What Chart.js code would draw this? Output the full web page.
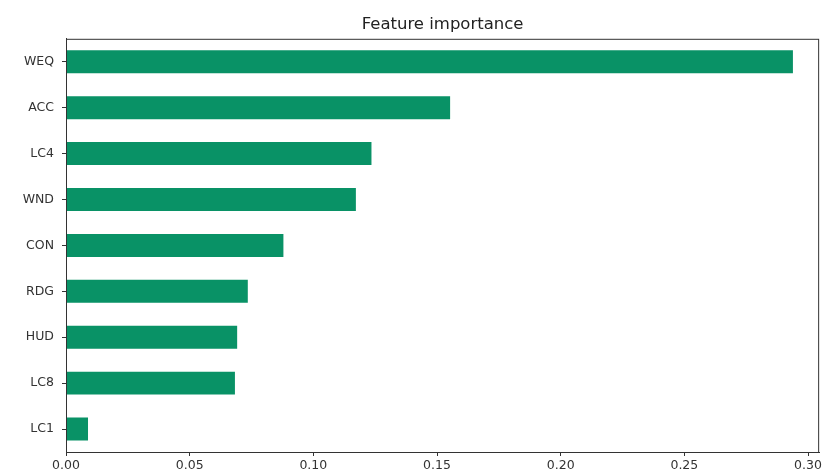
<!DOCTYPE html>
<html>
<head>
<meta charset="utf-8">
<script src="https://cdn.jsdelivr.net/npm/chart.js@4/dist/chart.umd.min.js"></script>
<style>
    body { margin: 0; background: #fff; }
</style>
</head>
<body>
<canvas id="feature-chart" width="824" height="472"></canvas>
<script>
var features = ["WEQ", "ACC", "LC4", "WND", "CON", "RDG", "HUD", "LC8", "LC1"];
var importance = [0.2939, 0.1553, 0.1235, 0.1172, 0.0879, 0.0735, 0.0692, 0.0683, 0.0089];
var xTicks = [0, 0.05, 0.10, 0.15, 0.20, 0.25, 0.30];

// draws the top and right spines like matplotlib
var frameBox = {
    id: 'frameBox',
    afterDraw: function(chart) {
        var a = chart.chartArea, ctx = chart.ctx;
        ctx.save();
        ctx.strokeStyle = '#333';
        ctx.lineWidth = 1;
        ctx.strokeRect(a.left + 0.5, a.top + 0.5, a.right - a.left - 1, a.bottom - a.top);
        ctx.restore();
    }
};

new Chart(document.getElementById("feature-chart"), {
    type: 'bar',
    data: {
        labels: features,
        datasets: [
            {
                label: "importance",
                backgroundColor: "#099266",
                data: importance,
                barPercentage: 0.5,
                categoryPercentage: 1.0
            }
        ]
    },
    options: {
        indexAxis: 'y',
        responsive: false,
        animation: false,
        devicePixelRatio: 1,
        layout: { padding: { left: 0, right: 2, top: 0, bottom: 0 } },
        plugins: {
            legend: { display: false },
            tooltip: { enabled: false },
            title: {
                display: true,
                fullSize: false,
                text: 'Feature importance',
                color: '#222',
                font: { family: 'DejaVu Sans', size: 16.5, weight: 'normal' },
                padding: { top: 15, bottom: 4 }
            }
        },
        scales: {
            x: {
                min: 0,
                max: 0.3045,
                afterBuildTicks: function(scale) {
                    scale.ticks = xTicks.map(function(v) { return { value: v }; });
                },
                afterFit: function(scale) { scale.height = 20; },
                grid: { drawOnChartArea: false, drawTicks: true, tickLength: 4, color: '#333' },
                border: { display: true, color: '#333' },
                ticks: {
                    color: '#333',
                    padding: 2,
                    maxRotation: 0,
                    font: { family: 'DejaVu Sans', size: 12.5 },
                    callback: function(v) { return Number(v).toFixed(2); }
                }
            },
            y: {
                afterFit: function(scale) { scale.width = 66; },
                grid: { offset: false, drawOnChartArea: false, drawTicks: true, tickLength: 4, color: '#333' },
                border: { display: true, color: '#333' },
                ticks: {
                    color: '#333',
                    padding: 8,
                    font: { family: 'DejaVu Sans', size: 12.5 }
                }
            }
        }
    },
    plugins: [frameBox]
});
</script>
</body>
</html>
